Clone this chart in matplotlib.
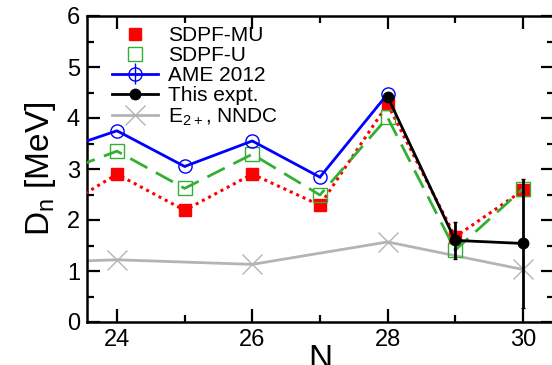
import matplotlib
matplotlib.use("Agg")
import matplotlib.pyplot as plt
from matplotlib.lines import Line2D
from matplotlib.ticker import MultipleLocator

plt.rcParams['font.family'] = ['Liberation Sans', 'DejaVu Sans']

# Data
N_mu = [23, 24, 25, 26, 27, 28, 29, 30]
sdpf_mu = [2.09, 2.90, 2.19, 2.90, 2.29, 4.27, 1.67, 2.58]
N_u = [23, 24, 25, 26, 27, 28, 29, 30]
sdpf_u = [2.85, 3.35, 2.62, 3.29, 2.49, 4.01, 1.41, 2.61]
N_ame = [23, 24, 25, 26, 27, 28]
ame = [3.30, 3.75, 3.05, 3.55, 2.84, 4.47]
ame_err = [0.02, 0.02, 0.02, 0.02, 0.02, 0.02]
N_exp = [28, 29, 30]
expt = [4.42, 1.60, 1.54]
expt_err = [0.0, 0.37, 1.26]
N_e2 = [22, 24, 26, 28, 30]
e2 = [1.13, 1.22, 1.13, 1.57, 1.03]

fig = plt.figure(figsize=(5.52, 3.65), dpi=100)
ax = fig.add_axes([87/552, 43/365, (554-87)/552, (322-16)/365])

red = '#ff0000'
green = '#33b033'
blue = '#0000ff'
gray = '#b4b4b4'

ax.plot(N_e2, e2, color=gray, lw=2, marker='x', ms=14, mew=1.0, zorder=2)
ax.plot(N_mu, sdpf_mu, color=red, lw=2.2, ls=(0, (1, 1.3)), marker='s', ms=8.5,
        mfc=red, mec=red, zorder=3)
ax.plot(N_u, sdpf_u, color=green, lw=2.0, ls=(0, (7, 3.5)), marker='s', ms=9.5,
        mfc='none', mec=green, mew=1.0, zorder=4)
ax.errorbar(N_ame, ame, yerr=ame_err, color=blue, lw=2.0, marker='o', ms=9.5,
            mfc='none', mec=blue, mew=1.0, elinewidth=1.0, zorder=5)
ax.errorbar(N_exp, expt, yerr=expt_err, color='black', lw=2.0, marker='o', ms=7.5,
            mfc='black', mec='black', elinewidth=2.0, capsize=1.5, zorder=6)

ax.set_xlim(23.557, 30.46)
ax.set_ylim(0, 6)
ax.xaxis.set_major_locator(MultipleLocator(2))
ax.xaxis.set_minor_locator(MultipleLocator(1))
ax.yaxis.set_major_locator(MultipleLocator(1))
ax.yaxis.set_minor_locator(MultipleLocator(0.5))
ax.tick_params(which='both', direction='in', top=True, right=True, width=1.6,
               labelsize=17, pad=5)
ax.tick_params(which='major', length=9.5)
ax.tick_params(which='minor', length=5)
for s in ax.spines.values():
    s.set_linewidth(1.8)

ax.set_xlabel('N', fontsize=24, labelpad=-5)
ax.set_ylabel(r'D$_\mathregular{n}$ [MeV]', fontsize=24, labelpad=6)

handles = [
    Line2D([], [], ls='none', marker='s', ms=8.5, mfc=red, mec=red),
    Line2D([], [], ls='none', marker='s', ms=9.5, mfc='none', mec=green, mew=1.0),
]
h_ame = ax.errorbar([], [], yerr=[], color=blue, lw=2.0, marker='o', ms=9.5,
                    mfc='none', mec=blue, mew=1.0, elinewidth=1.0)
h_exp = Line2D([], [], color='black', lw=2.0, marker='o', ms=7.5, mfc='black', mec='black')
h_e2 = Line2D([], [], color=gray, lw=2, marker='x', ms=14, mew=1.0)
handles += [h_ame, h_exp, h_e2]
labels = ['SDPF-MU', 'SDPF-U', 'AME 2012', 'This expt.', r'E$_\mathregular{2+}$, NNDC']
leg = ax.legend(handles, labels, loc='upper left', bbox_to_anchor=(0.024, 1.012),
                frameon=False, fontsize=15, handlelength=2.2, handletextpad=0.5,
                labelspacing=0.05, borderaxespad=0.25)

fig.savefig('out.png', dpi=100)
